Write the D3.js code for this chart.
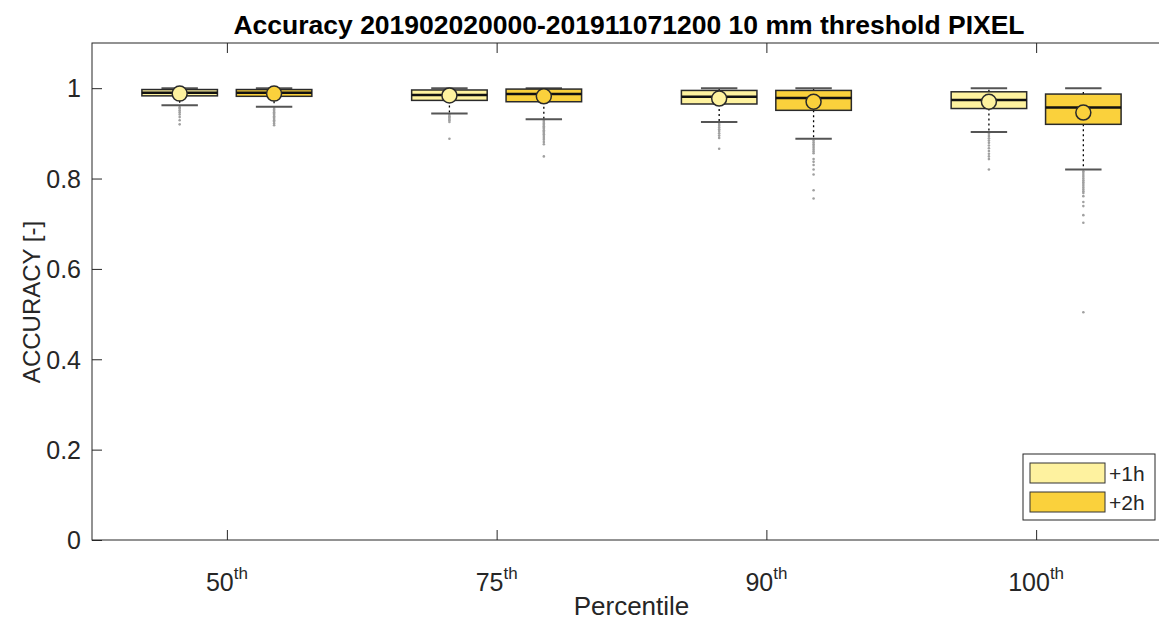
<!DOCTYPE html>
<html><head><meta charset="utf-8">
<script src="https://cdn.jsdelivr.net/npm/d3@7/dist/d3.min.js"></script>
<style>body{margin:0;background:#fff}svg{display:block;font-family:"Liberation Sans",Arial,sans-serif}</style>
</head><body><svg id="c" width="1159" height="620"></svg>
<script>
// ---- data ----
const categories = ["50", "75", "90", "100"];
const series = ["+1h", "+2h"];
const yTicks = [0, 0.2, 0.4, 0.6, 0.8, 1];

const q1_1h   = [0.983, 0.973, 0.965, 0.955];
const med_1h  = [0.990, 0.985, 0.981, 0.974];
const q3_1h   = [0.997, 0.996, 0.995, 0.992];
const mean_1h = [0.988, 0.984, 0.977, 0.970];
const lo_1h   = [0.962, 0.944, 0.925, 0.903];
const hi_1h   = [1.0, 1.0, 1.0, 1.0];

const q1_2h   = [0.982, 0.970, 0.951, 0.920];
const med_2h  = [0.990, 0.987, 0.978, 0.957];
const q3_2h   = [0.997, 0.998, 0.995, 0.987];
const mean_2h = [0.988, 0.982, 0.970, 0.946];
const lo_2h   = [0.959, 0.931, 0.888, 0.820];
const hi_2h   = [1.0, 1.0, 1.0, 1.0];

const out_1h = [
  [0.958, 0.955, 0.951, 0.947, 0.942, 0.936, 0.929, 0.920],
  [0.941, 0.938, 0.935, 0.932, 0.929, 0.925, 0.888],
  [0.921, 0.917, 0.913, 0.909, 0.905, 0.900, 0.895, 0.890, 0.866],
  [0.899, 0.894, 0.889, 0.884, 0.879, 0.873, 0.867, 0.861, 0.855, 0.849, 0.843, 0.820]
];
const out_2h = [
  [0.956, 0.953, 0.950, 0.947, 0.944, 0.941, 0.938, 0.935, 0.932, 0.929, 0.926, 0.922, 0.918],
  [0.928, 0.925, 0.922, 0.919, 0.916, 0.913, 0.910, 0.907, 0.904, 0.901, 0.898, 0.894, 0.890, 0.886, 0.881, 0.876, 0.849],
  [0.884, 0.880, 0.876, 0.872, 0.868, 0.864, 0.860, 0.856, 0.843, 0.837, 0.830, 0.820, 0.809, 0.774, 0.756],
  [0.816, 0.812, 0.808, 0.804, 0.800, 0.796, 0.792, 0.788, 0.784, 0.780, 0.776, 0.772, 0.768, 0.761, 0.748, 0.739, 0.719, 0.702, 0.504]
];
const colors = ["#FEF29F", "#FAD13C"];

// ---- layout ----
const L = 92, R = 1171, T = 43, B = 540;
const svg = d3.select("#c");
const x = d3.scaleLinear().domain([0.5, 4.5]).range([L, R]);
const y = d3.scaleLinear().domain([0, 1.1]).range([B, T]);
const axisCol = "#262626";
const offs = [-0.175, 0.175], bw = 0.28, capW = 0.135;

const stats = [
  {q1: q1_1h, med: med_1h, q3: q3_1h, mean: mean_1h, lo: lo_1h, hi: hi_1h, out: out_1h},
  {q1: q1_2h, med: med_2h, q3: q3_2h, mean: mean_2h, lo: lo_2h, hi: hi_2h, out: out_2h}
];

// axes frame
svg.append("rect").attr("x", L).attr("y", T).attr("width", R - L).attr("height", B - T)
  .attr("fill", "none").attr("stroke", axisCol).attr("stroke-width", 1);

// y axis ticks (inside)
const yAx = svg.append("g").attr("transform", `translate(${L},0)`)
  .call(d3.axisLeft(y).tickValues(yTicks).tickSize(-10).tickPadding(11).tickFormat(d3.format("~g")));
yAx.select(".domain").remove();
yAx.selectAll("line").attr("stroke", axisCol);
yAx.selectAll("text").attr("font-size", 25).attr("fill", axisCol).attr("dy", "0.35em");
const yAxR = svg.append("g").attr("transform", `translate(${R},0)`)
  .call(d3.axisRight(y).tickValues(yTicks).tickSize(-10).tickFormat(""));
yAxR.select(".domain").remove(); yAxR.selectAll("line").attr("stroke", axisCol);

// x axis ticks (inside)
const xAx = svg.append("g").attr("transform", `translate(0,${B})`)
  .call(d3.axisBottom(x).tickValues([1, 2, 3, 4]).tickSize(-10).tickFormat(""));
xAx.select(".domain").remove(); xAx.selectAll("line").attr("stroke", axisCol);
const xAxT = svg.append("g").attr("transform", `translate(0,${T})`)
  .call(d3.axisTop(x).tickValues([1, 2, 3, 4]).tickSize(-10).tickFormat(""));
xAxT.select(".domain").remove(); xAxT.selectAll("line").attr("stroke", axisCol);

// x tick labels with superscript
categories.forEach((c, i) => {
  const t = svg.append("text").attr("x", x(i + 1)).attr("y", 591)
    .attr("text-anchor", "middle").attr("fill", axisCol).attr("font-size", 25);
  t.append("tspan").text(c);
  t.append("tspan").attr("font-size", 17).attr("dy", -12).text("th");
});

// axis labels + title
svg.append("text").attr("x", (L + R) / 2).attr("y", 615).attr("text-anchor", "middle")
  .attr("font-size", 26).attr("fill", axisCol).text("Percentile");
svg.append("text").attr("transform", `translate(40,302) rotate(-90)`)
  .attr("text-anchor", "middle").attr("font-size", 24).attr("fill", axisCol).text("ACCURACY [-]");
svg.append("text").attr("x", 629).attr("y", 34).attr("text-anchor", "middle")
  .attr("font-size", 26.5).attr("font-weight", "bold").attr("fill", "#000")
  .text("Accuracy 201902020000-201911071200 10 mm threshold PIXEL");

// boxes
stats.forEach((s, si) => {
  const g = svg.append("g");
  categories.forEach((c, i) => {
    const cx = i + 1 + offs[si];
    g.append("line").attr("x1", x(cx)).attr("x2", x(cx)).attr("y1", y(s.q1[i])).attr("y2", y(s.lo[i]))
      .attr("stroke", "#000").attr("stroke-width", 1.3).attr("stroke-dasharray", "2,3");
    g.append("line").attr("x1", x(cx)).attr("x2", x(cx)).attr("y1", y(s.q3[i])).attr("y2", y(s.hi[i]))
      .attr("stroke", "#000").attr("stroke-width", 1.3).attr("stroke-dasharray", "2,3");
    g.selectAll(null).data(s.out[i]).enter().append("circle")
      .attr("cx", x(cx)).attr("cy", d => y(d)).attr("r", 1.3).attr("fill", "#a0a0a0");
    [s.lo[i], s.hi[i]].forEach(v => {
      g.append("line").attr("x1", x(cx - capW / 2)).attr("x2", x(cx + capW / 2))
        .attr("y1", y(v)).attr("y2", y(v)).attr("stroke", "#555").attr("stroke-width", 2);
    });
    g.append("rect").attr("x", x(cx - bw / 2)).attr("width", x(cx + bw / 2) - x(cx - bw / 2))
      .attr("y", y(s.q3[i])).attr("height", y(s.q1[i]) - y(s.q3[i]))
      .attr("fill", colors[si]).attr("stroke", "#2a2a2a").attr("stroke-width", 1.5);
    g.append("line").attr("x1", x(cx - bw / 2)).attr("x2", x(cx + bw / 2))
      .attr("y1", y(s.med[i])).attr("y2", y(s.med[i])).attr("stroke", "#111").attr("stroke-width", 2.5);
    g.append("circle").attr("cx", x(cx)).attr("cy", y(s.mean[i])).attr("r", 7.5)
      .attr("fill", colors[si]).attr("stroke", "#2a2a2a").attr("stroke-width", 1.5);
  });
});

// legend
const lg = svg.append("g");
lg.append("rect").attr("x", 1023).attr("y", 454).attr("width", 132).attr("height", 66)
  .attr("fill", "#fff").attr("stroke", axisCol).attr("stroke-width", 1);
series.forEach((sname, i) => {
  lg.append("rect").attr("x", 1030).attr("y", 463 + i * 29).attr("width", 75).attr("height", 20)
    .attr("fill", colors[i]).attr("stroke", "#333").attr("stroke-width", 1);
  lg.append("text").attr("x", 1109).attr("y", 481 + i * 29).attr("font-size", 21)
    .attr("fill", axisCol).text(sname);
});
</script></body></html>
